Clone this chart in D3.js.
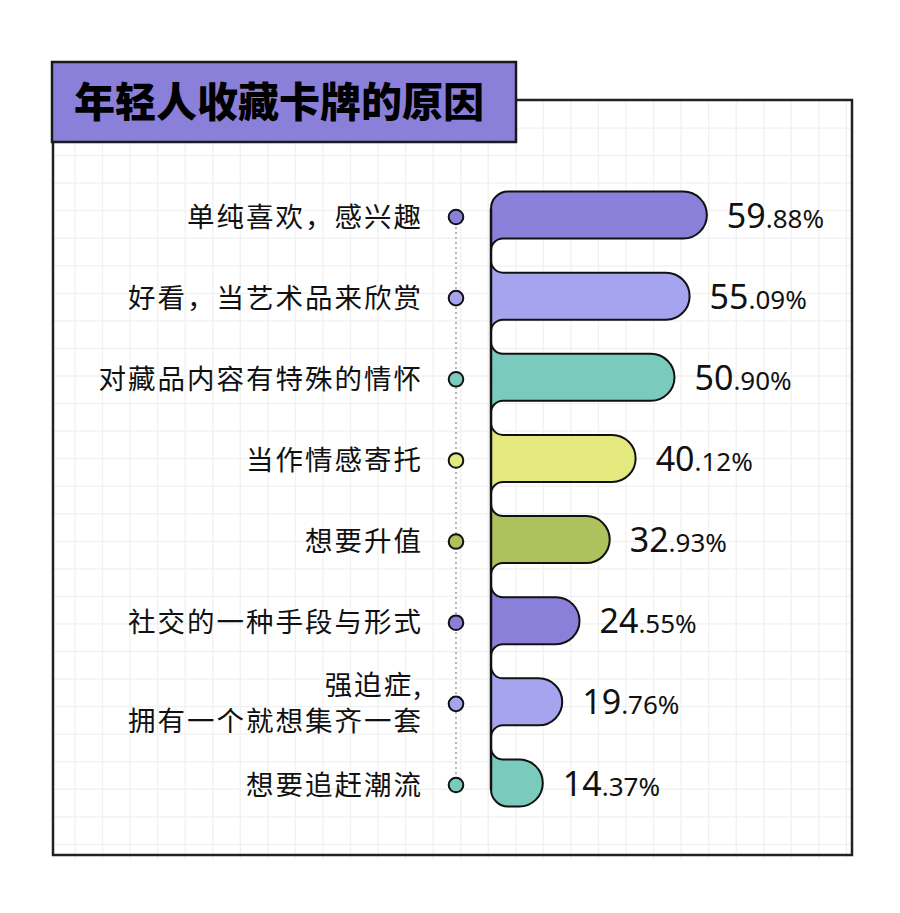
<!DOCTYPE html>
<html>
<head>
<meta charset="utf-8">
<script src="https://cdnjs.cloudflare.com/ajax/libs/d3/7.8.5/d3.min.js"></script>
<style>
  body { margin: 0; background: #fff; }
  svg { display: block; }
</style>
</head>
<body>
<div id="chart"></div>
<script>
  // data
  var title = "年轻人收藏卡牌的原因";
  var categories = [
    "单纯喜欢，感兴趣",
    "好看，当艺术品来欣赏",
    "对藏品内容有特殊的情怀",
    "当作情感寄托",
    "想要升值",
    "社交的一种手段与形式",
    "强迫症,\n拥有一个就想集齐一套",
    "想要追赶潮流"
  ];
  var values = [59.88, 55.09, 50.90, 40.12, 32.93, 24.55, 19.76, 14.37];
  var colors = ["#8b80d9", "#a7a4ef", "#7acabe", "#e4e97f", "#adc15d", "#8b80d9", "#a7a4ef", "#7acabe"];

  var width = 900, height = 913;
  var frame = {x: 53, y: 100, w: 799, h: 755};

  var svg = d3.select("#chart").append("svg")
      .attr("width", width)
      .attr("height", height);

  // background grid
  var gridStep = 27.55;
  var grid = svg.append("g").attr("stroke", "#f1f1f1").attr("stroke-width", 1.3);
  grid.selectAll(".h")
    .data(d3.range(frame.y + 0.5, frame.y + frame.h, gridStep))
    .enter().append("line")
      .attr("x1", frame.x).attr("x2", frame.x + frame.w)
      .attr("y1", function(d) { return d; }).attr("y2", function(d) { return d; });
  grid.selectAll(".v")
    .data(d3.range(75, frame.x + frame.w, gridStep))
    .enter().append("line")
      .attr("y1", frame.y).attr("y2", frame.y + frame.h + 4)
      .attr("x1", function(d) { return d; }).attr("x2", function(d) { return d; });

  // frame
  svg.append("rect")
    .attr("x", frame.x).attr("y", frame.y)
    .attr("width", frame.w).attr("height", frame.h)
    .attr("fill", "none")
    .attr("stroke", "#222")
    .attr("stroke-width", 2.5);

  // title box
  svg.append("rect")
    .attr("x", 52).attr("y", 62)
    .attr("width", 464).attr("height", 80)
    .attr("fill", "#8a80d9")
    .attr("stroke", "#1a1a1a")
    .attr("stroke-width", 2.5);
  svg.append("text")
    .attr("x", 74).attr("y", 117)
    .attr("font-family", "'Noto Sans CJK SC', sans-serif")
    .attr("font-weight", 900)
    .attr("font-size", 41)
    .attr("fill", "#000")
    .text(title);

  // scales
  var y = d3.scalePoint()
      .domain(categories)
      .range([217, 785]);
  var x = d3.scaleLinear()
      .domain([0, 60])
      .range([491, 707.3]);

  var barH = 47, rg = 12, r0 = 17;

  function barPath(d, i) {
    var cy = y(categories[i]) - 2,
        top = cy - barH / 2,
        bot = cy + barH / 2,
        x0 = x(0),
        x1 = x(d),
        R = barH / 2,
        p = d3.path();
    if (i === 0) {
      p.moveTo(x0, top + r0);
      p.arcTo(x0, top, x0 + r0, top, r0);
    } else {
      p.moveTo(x0, top - rg);
      p.arcTo(x0, top, x0 + rg, top, rg);
    }
    p.lineTo(x1 - R, top);
    p.arc(x1 - R, cy, R, -Math.PI / 2, Math.PI / 2, false);
    if (i === values.length - 1) {
      p.lineTo(x0 + r0, bot);
      p.arcTo(x0, bot, x0, bot - r0, r0);
    } else {
      p.lineTo(x0 + rg, bot);
      p.arcTo(x0, bot, x0, bot + rg, rg);
    }
    p.closePath();
    return p.toString();
  }

  // dotted guide line and dots
  svg.append("line")
    .attr("x1", 456).attr("x2", 456)
    .attr("y1", y(categories[0])).attr("y2", y(categories[categories.length - 1]))
    .attr("stroke", "#b5b5b5")
    .attr("stroke-width", 2)
    .attr("stroke-dasharray", "2,3");

  svg.selectAll(".dot")
    .data(values)
    .enter().append("circle")
      .attr("class", "dot")
      .attr("cx", 456)
      .attr("cy", function(d, i) { return y(categories[i]); })
      .attr("r", 7.3)
      .attr("fill", function(d, i) { return colors[i]; })
      .attr("stroke", "#111")
      .attr("stroke-width", 2);

  // bars
  svg.selectAll(".bar")
    .data(values)
    .enter().append("path")
      .attr("class", "bar")
      .attr("d", barPath)
      .attr("fill", function(d, i) { return colors[i]; })
      .attr("stroke", "#111")
      .attr("stroke-width", 2)
      .attr("stroke-linejoin", "round");

  // spine
  svg.append("line")
    .attr("x1", x(0)).attr("x2", x(0))
    .attr("y1", y(categories[0]) - 2 - barH / 2 + r0)
    .attr("y2", y(categories[categories.length - 1]) - 2 + barH / 2 - r0)
    .attr("stroke", "#111")
    .attr("stroke-width", 2.5);

  // category labels
  var labels = svg.selectAll(".label")
    .data(categories)
    .enter().append("text")
      .attr("class", "label")
      .attr("text-anchor", "end")
      .attr("font-family", "'Noto Sans CJK SC', sans-serif")
      .attr("font-size", 27.5)
      .attr("letter-spacing", 2)
      .attr("fill", "#111");
  labels.each(function(d) {
    var lines = d.split("\n");
    var t = d3.select(this);
    var cy = y(d);
    lines.forEach(function(line, k) {
      t.append("tspan")
        .attr("x", 423)
        .attr("y", cy + 9.5 + (k - (lines.length - 1) / 2) * 36)
        .text(line);
    });
  });

  // value labels
  var vals = svg.selectAll(".val")
    .data(values)
    .enter().append("text")
      .attr("class", "val")
      .attr("x", function(d) { return x(d) + 20; })
      .attr("y", function(d, i) { return y(categories[i]) + 10.5; })
      .attr("font-family", "'Noto Sans', sans-serif")
      .attr("fill", "#111");
  vals.append("tspan")
    .attr("font-size", 34)
    .text(function(d) { return d.toFixed(2).split(".")[0]; });
  vals.append("tspan")
    .attr("font-size", 26)
    .text(function(d) { return "." + d.toFixed(2).split(".")[1] + "%"; });
</script>
</body>
</html>
